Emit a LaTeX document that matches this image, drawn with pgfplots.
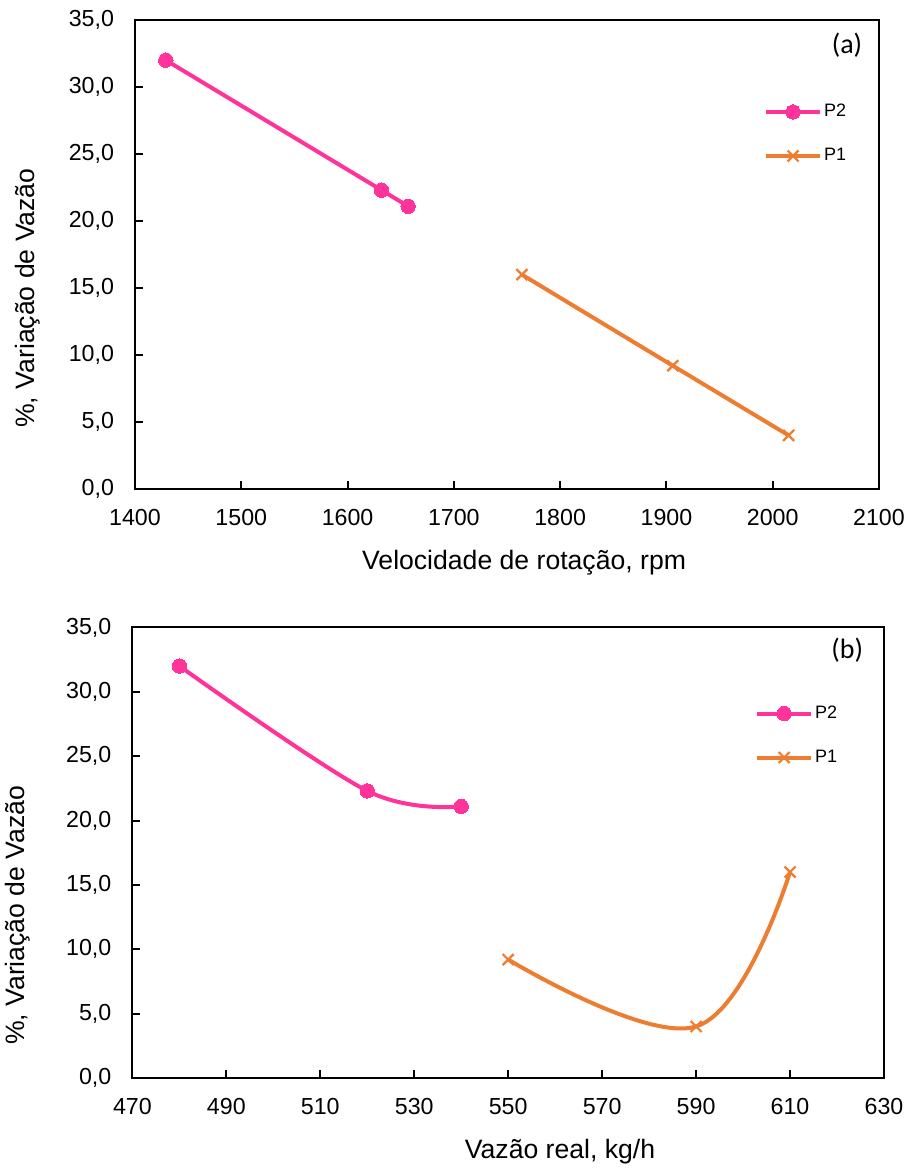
\documentclass[border=0pt]{standalone}
\usepackage{pgfplots}
\pgfplotsset{compat=1.18}
\usepackage{fontspec}
\setmainfont{Liberation Sans}
\newfontfamily\calibri{Carlito}
\definecolor{pinkc}{HTML}{FF3399}
\definecolor{orangec}{HTML}{ED7D31}

\pgfplotsset{
  myaxis/.style={
    scale only axis,
    anchor=south west,
    axis line style={line width=1pt},
    tick align=inside,
    xtick pos=left, ytick pos=left,
    major tick length=4pt,
    every tick/.style={line width=1pt, black},
    ymin=0, ymax=35, ytick={0,5,...,35},
    /pgf/number format/assume math mode=true,
    tick label style={font=\fontsize{11.6}{13}\selectfont},
    y tick label style={/pgf/number format/fixed, /pgf/number format/fixed zerofill,
      /pgf/number format/precision=1, /pgf/number format/use comma},
    yticklabel style={xshift=-7pt},
    x tick label style={/pgf/number format/1000 sep={}},
    xticklabel style={yshift=-6.5pt},
    label style={font=\fontsize{13.3}{15}\selectfont},
    legend style={draw=none, fill=none, inner sep=0pt, anchor=west,
      font=\fontsize{9}{10}\selectfont,
      nodes={inner sep=0pt, text height=7pt, text depth=2pt},
      row sep=13pt,
      /tikz/every odd column/.append style={column sep=1pt}},
    legend cell align=left,
    legend image code/.code={\draw[mark repeat=2,mark phase=2,#1] plot coordinates {(0pt,0pt) (13.5pt,0pt) (27pt,0pt)};},
  },
  p2style/.style={color=pinkc, line width=2pt, mark=*, mark size=3.6pt, mark options={solid, fill=pinkc, line width=0pt}},
  p1style/.style={color=orangec, line width=2pt, mark=x, mark size=3.9pt, mark options={solid, line width=1.1pt}},
}

\begin{document}
\begin{tikzpicture}
\path[use as bounding box] (0,0) rectangle (455pt,584pt);

\begin{axis}[myaxis,
  at={(67.5pt,339.5pt)},
  width=372pt, height=234.5pt,
  xmin=1400, xmax=2100, xtick={1400,1500,...,2100},
  xlabel={Velocidade de rotação, rpm},
  xlabel style={at={(axis description cs:0.523,0)}, anchor=center, yshift=-37pt},
  ylabel={\%, Variação de Vazão},
  ylabel style={at={(axis description cs:-0.1438,0.407)}, anchor=center, rotate=0},
  legend style={at={(axis description cs:0.845,0.757)}},
]
\addplot[p2style] coordinates {(1429,32.0) (1632,22.3) (1657,21.1)};
\addlegendentry{P2}
\addplot[p1style] coordinates {(1764,16.0) (1906,9.2) (2015,4.0)};
\addlegendentry{P1}
\node[font=\calibri\fontsize{14}{16}\selectfont] at (axis description cs:0.957,0.947) {(a)};
\end{axis}

\begin{axis}[myaxis,
  at={(66.2pt,45pt)},
  width=375.8pt, height=225.3pt,
  xmin=470, xmax=630, xtick={470,490,...,630},
  xlabel={Vazão real, kg/h},
  xlabel style={at={(axis description cs:0.569,0)}, anchor=center, yshift=-37pt},
  ylabel={\%, Variação de Vazão},
  ylabel style={at={(axis description cs:-0.153,0.361)}, anchor=center, rotate=0},
  legend style={at={(axis description cs:0.828,0.760)}},
]
\addplot[p2style, smooth, tension=0.55] coordinates {(480,32.0) (520,22.3) (540,21.1)};
\addlegendentry{P2}
\addplot[p1style, smooth, tension=0.65] coordinates {(550,9.2) (590,4.0) (610,16.0)};
\addlegendentry{P1}
\node[font=\calibri\fontsize{14}{16}\selectfont] at (axis description cs:0.951,0.950) {(b)};
\end{axis}
\end{tikzpicture}
\end{document}
